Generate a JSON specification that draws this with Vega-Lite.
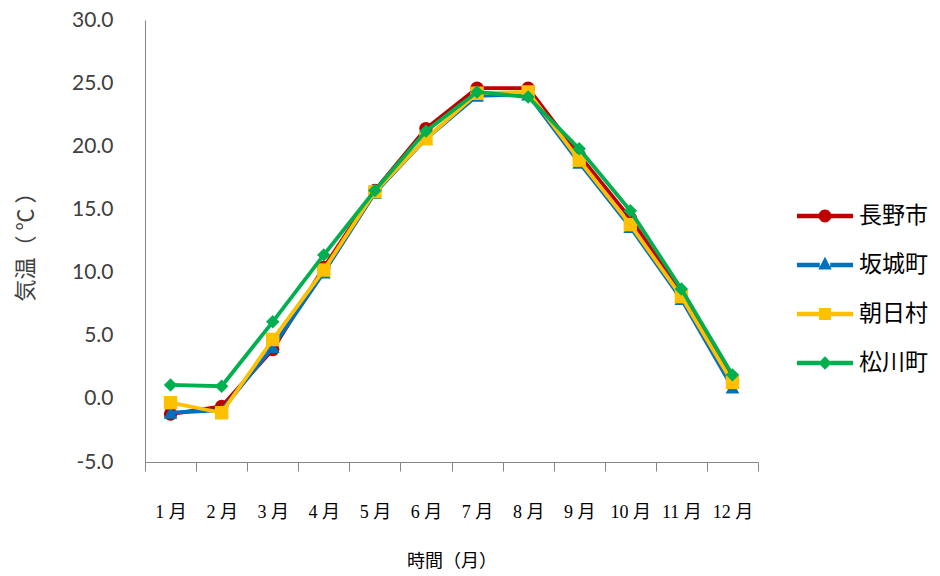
{
  "$schema": "https://vega.github.io/schema/vega-lite/v6.json",
  "width": 613,
  "height": 442,
  "autosize": {"type": "none"},
  "padding": {"left": 145, "top": 20, "right": 182, "bottom": 114},
  "background": "white",
  "config": {"view": {"stroke": null}, "font": "Noto Sans CJK JP"},
  "data": {
    "values": [
      {"month": "1 月", "city": "長野市", "temp": -1.2},
      {"month": "2 月", "city": "長野市", "temp": -0.6},
      {"month": "3 月", "city": "長野市", "temp": 3.9},
      {"month": "4 月", "city": "長野市", "temp": 10.4},
      {"month": "5 月", "city": "長野市", "temp": 16.5},
      {"month": "6 月", "city": "長野市", "temp": 21.4},
      {"month": "7 月", "city": "長野市", "temp": 24.6},
      {"month": "8 月", "city": "長野市", "temp": 24.6},
      {"month": "9 月", "city": "長野市", "temp": 19.3},
      {"month": "10 月", "city": "長野市", "temp": 14.3},
      {"month": "11 月", "city": "長野市", "temp": 8.4},
      {"month": "12 月", "city": "長野市", "temp": 1.5},
      {"month": "1 月", "city": "坂城町", "temp": -1.1},
      {"month": "2 月", "city": "坂城町", "temp": -0.9},
      {"month": "3 月", "city": "坂城町", "temp": 4.1},
      {"month": "4 月", "city": "坂城町", "temp": 10.0},
      {"month": "5 月", "city": "坂城町", "temp": 16.3},
      {"month": "6 月", "city": "坂城町", "temp": 20.6},
      {"month": "7 月", "city": "坂城町", "temp": 24.0},
      {"month": "8 月", "city": "坂城町", "temp": 24.1},
      {"month": "9 月", "city": "坂城町", "temp": 18.7},
      {"month": "10 月", "city": "坂城町", "temp": 13.6},
      {"month": "11 月", "city": "坂城町", "temp": 7.9},
      {"month": "12 月", "city": "坂城町", "temp": 0.9},
      {"month": "1 月", "city": "朝日村", "temp": -0.3},
      {"month": "2 月", "city": "朝日村", "temp": -1.1},
      {"month": "3 月", "city": "朝日村", "temp": 4.7},
      {"month": "4 月", "city": "朝日村", "temp": 10.2},
      {"month": "5 月", "city": "朝日村", "temp": 16.4},
      {"month": "6 月", "city": "朝日村", "temp": 20.6},
      {"month": "7 月", "city": "朝日村", "temp": 24.2},
      {"month": "8 月", "city": "朝日村", "temp": 24.3},
      {"month": "9 月", "city": "朝日村", "temp": 18.9},
      {"month": "10 月", "city": "朝日村", "temp": 13.8},
      {"month": "11 月", "city": "朝日村", "temp": 8.1},
      {"month": "12 月", "city": "朝日村", "temp": 1.3},
      {"month": "1 月", "city": "松川町", "temp": 1.1},
      {"month": "2 月", "city": "松川町", "temp": 1.0},
      {"month": "3 月", "city": "松川町", "temp": 6.1},
      {"month": "4 月", "city": "松川町", "temp": 11.4},
      {"month": "5 月", "city": "松川町", "temp": 16.5},
      {"month": "6 月", "city": "松川町", "temp": 21.2},
      {"month": "7 月", "city": "松川町", "temp": 24.3},
      {"month": "8 月", "city": "松川町", "temp": 23.9},
      {"month": "9 月", "city": "松川町", "temp": 19.8},
      {"month": "10 月", "city": "松川町", "temp": 14.9},
      {"month": "11 月", "city": "松川町", "temp": 8.7},
      {"month": "12 月", "city": "松川町", "temp": 1.9}
    ]
  },
  "encoding": {
    "x": {
      "field": "month",
      "type": "ordinal",
      "sort": ["1 月", "2 月", "3 月", "4 月", "5 月", "6 月", "7 月", "8 月", "9 月", "10 月", "11 月", "12 月"],
      "scale": {"type": "band", "paddingInner": 0, "paddingOuter": 0},
      "axis": {
        "title": "時間（月）",
        "grid": false,
        "domainColor": "#868686",
        "tickColor": "#868686",
        "tickSize": 9,
        "tickBand": "extent",
        "labelAngle": 0,
        "labelFont": "Liberation Serif, Noto Sans CJK JP",
        "labelFontSize": 18,
        "labelColor": "#000000",
        "labelPadding": 32,
        "labelDx": 5,
        "titleFont": "Noto Sans CJK JP",
        "titleFontSize": 18,
        "titleFontWeight": "normal",
        "titleColor": "#000000",
        "titlePadding": 31
      }
    },
    "y": {
      "field": "temp",
      "type": "quantitative",
      "scale": {"domain": [-5, 30], "nice": false, "zero": false},
      "axis": {
        "title": "気温（ ℃ ）",
        "grid": false,
        "ticks": false,
        "values": [-5, 0, 5, 10, 15, 20, 25, 30],
        "labelExpr": "(datum.value < 0 ? '-' : '') + format(abs(datum.value), '.1f')",
        "domainColor": "#868686",
        "labelFont": "Lato",
        "labelFontSize": 21,
        "labelColor": "#404040",
        "labelPadding": 32,
        "titleFont": "Noto Sans CJK JP",
        "titleFontSize": 22,
        "titleFontWeight": "normal",
        "titleColor": "#404040",
        "titlePadding": 34
      }
    },
    "color": {
      "field": "city",
      "type": "nominal",
      "scale": {"domain": ["長野市", "坂城町", "朝日村", "松川町"], "range": ["#C00000", "#0070C0", "#FFC000", "#00B050"]},
      "legend": null
    },
    "shape": {
      "field": "city",
      "type": "nominal",
      "scale": {"domain": ["長野市", "坂城町", "朝日村", "松川町"], "range": ["circle", "triangle-up", "square", "diamond"]},
      "legend": null
    }
  },
  "layer": [
    {"transform": [{"filter": "datum.city === '長野市'"}], "mark": {"type": "line", "strokeWidth": 3.8}},
    {"transform": [{"filter": "datum.city === '長野市'"}], "mark": {"type": "point", "filled": true, "opacity": 1, "size": 180}},
    {"transform": [{"filter": "datum.city === '坂城町'"}], "mark": {"type": "line", "strokeWidth": 3.8}},
    {"transform": [{"filter": "datum.city === '坂城町'"}], "mark": {"type": "point", "filled": true, "opacity": 1, "size": 190}},
    {"transform": [{"filter": "datum.city === '朝日村'"}], "mark": {"type": "line", "strokeWidth": 3.8}},
    {"transform": [{"filter": "datum.city === '朝日村'"}], "mark": {"type": "point", "filled": true, "opacity": 1, "size": 180}},
    {"transform": [{"filter": "datum.city === '松川町'"}], "mark": {"type": "line", "strokeWidth": 3.8}},
    {"transform": [{"filter": "datum.city === '松川町'"}], "mark": {"type": "point", "filled": true, "opacity": 1, "size": 180}},
    {
      "mark": {"type": "point", "filled": true, "opacity": 0},
      "encoding": {
        "color": {
          "field": "city",
          "type": "nominal",
          "scale": {"domain": ["長野市", "坂城町", "朝日村", "松川町"], "range": ["#C00000", "#0070C0", "#FFC000", "#00B050"]},
          "legend": {
            "title": null,
            "orient": "none",
            "legendX": 665,
            "legendY": 181,
            "padding": 0,
            "symbolSize": 900,
            "symbolOpacity": 1,
            "symbolStrokeWidth": 0,
            "labelOffset": 19,
            "labelFont": "Noto Sans CJK JP",
            "labelFontSize": 23,
            "labelColor": "#000000",
            "labelLimit": 200,
            "rowPadding": 22
          }
        },
        "shape": {
          "field": "city",
          "type": "nominal",
          "scale": {
            "domain": ["長野市", "坂城町", "朝日村", "松川町"],
            "range": [
              "M-1.87,-0.15L-0.35,-0.15L-0.35,0.15L-1.87,0.15ZM0.35,-0.15L1.87,-0.15L1.87,0.15L0.35,0.15ZM0.43,0A0.43,0.43,0,1,1,-0.43,0A0.43,0.43,0,1,1,0.43,0Z",
              "M-1.87,-0.15L-0.35,-0.15L-0.35,0.15L-1.87,0.15ZM0.35,-0.15L1.87,-0.15L1.87,0.15L0.35,0.15ZM0,-0.55L0.45,0.3L-0.45,0.3Z",
              "M-1.87,-0.15L-0.35,-0.15L-0.35,0.15L-1.87,0.15ZM0.35,-0.15L1.87,-0.15L1.87,0.15L0.35,0.15ZM-0.4,-0.4L0.4,-0.4L0.4,0.4L-0.4,0.4Z",
              "M-1.87,-0.15L-0.35,-0.15L-0.35,0.15L-1.87,0.15ZM0.35,-0.15L1.87,-0.15L1.87,0.15L0.35,0.15ZM0,-0.45L0.45,0L0,0.45L-0.45,0Z"
            ]
          },
          "legend": {
            "title": null,
            "orient": "none",
            "legendX": 665,
            "legendY": 181,
            "padding": 0,
            "symbolSize": 900,
            "symbolOpacity": 1,
            "symbolStrokeWidth": 0,
            "labelOffset": 19,
            "labelFont": "Noto Sans CJK JP",
            "labelFontSize": 23,
            "labelColor": "#000000",
            "labelLimit": 200,
            "rowPadding": 22
          }
        }
      }
    }
  ],
  "resolve": {"scale": {"shape": "independent", "color": "independent"}}
}
